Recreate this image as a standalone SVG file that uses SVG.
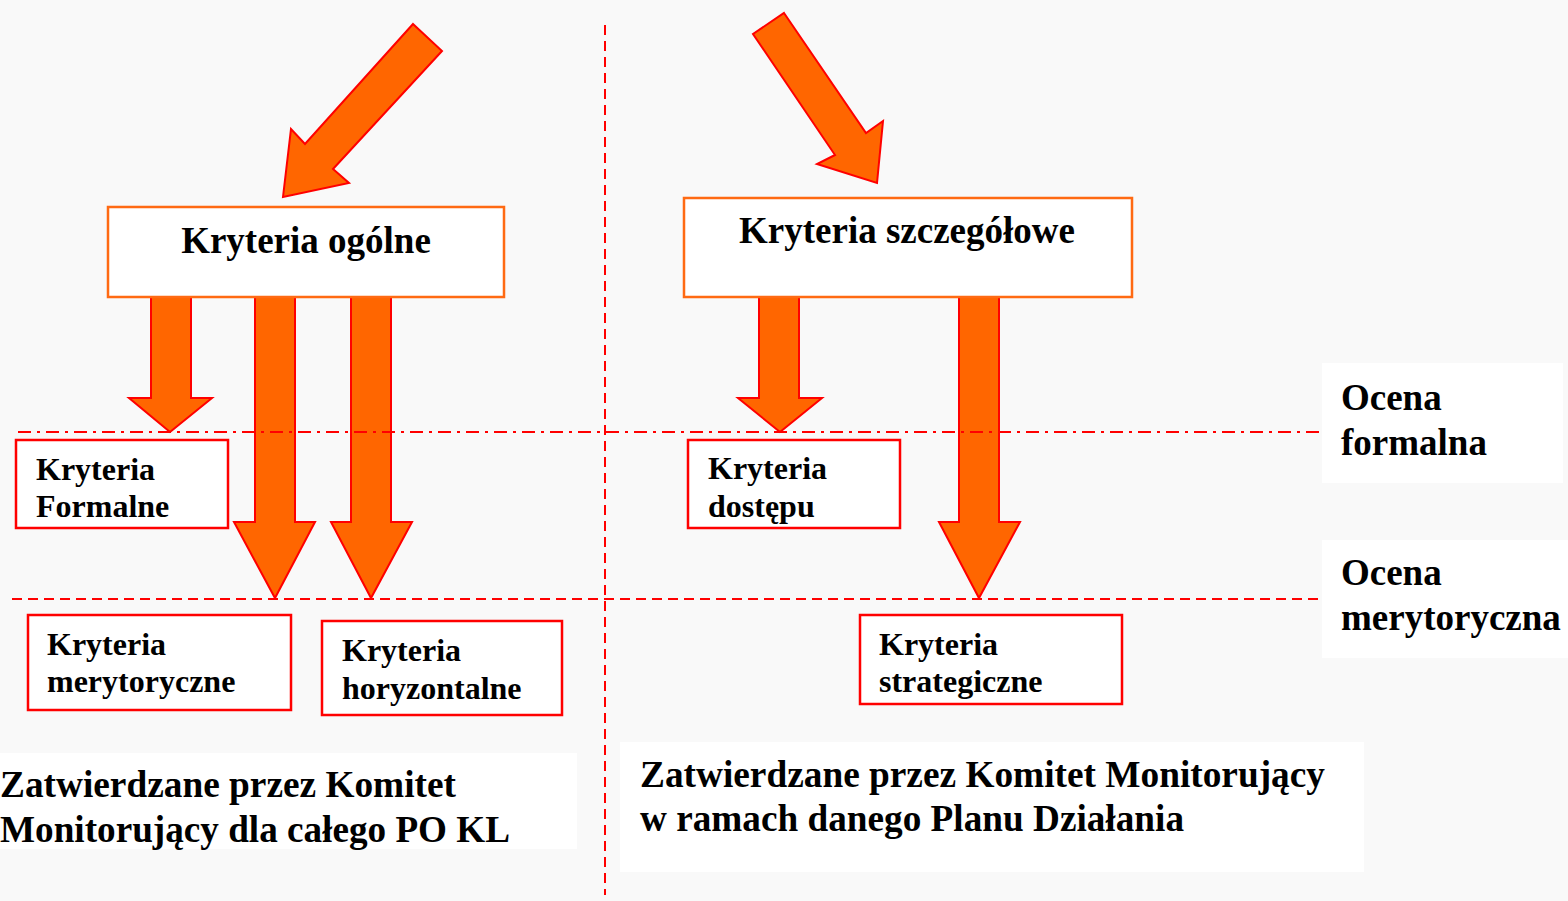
<svg xmlns="http://www.w3.org/2000/svg" width="1568" height="901" viewBox="0 0 1568 901">
<style>
.arrow{fill:#ff6600;stroke:#ff0000;stroke-width:2;stroke-linejoin:miter}
.big{fill:#ffffff;stroke:#ff6a13;stroke-width:2.5}
.small{fill:#ffffff;stroke:#ff0000;stroke-width:2.5}
text{font-family:"Liberation Serif","Times New Roman",serif;font-weight:bold;fill:#000000}
.t37{font-size:37px}
.t32{font-size:32px}
.dash{stroke:#ff0000;stroke-width:2;fill:none;stroke-dasharray:10 6}
.dashdot{stroke:#ff0000;stroke-width:2;fill:none;stroke-dasharray:13 6 3 6}
.bgw{fill:#ffffff}
</style>
<rect x="0" y="0" width="1568" height="901" fill="#f9f9f9"/>
<rect class="bgw" x="1322" y="363" width="241" height="120"/>
<rect class="bgw" x="1322" y="540" width="246" height="118"/>
<rect class="bgw" x="0" y="753" width="577" height="96"/>
<rect class="bgw" x="620" y="742" width="744" height="130"/>

<g id="connectors">
<polygon class="arrow" points="413,24 442,51 333,169 349,183 283,197 291,129 305,144"/>
<polygon class="arrow" points="784,13 866,133 883,121 877,183 817,164 835,155 753,34"/>
<polygon class="arrow" points="151,297 191,297 191,398 212,398 170,432 129,398 151,398"/>
<polygon class="arrow" points="255,297 295,297 295,522 315,522 275,598 234,522 255,522"/>
<polygon class="arrow" points="351,297 391,297 391,522 412,522 371,598 331,522 351,522"/>
<polygon class="arrow" points="759,297 799,297 799,398 822,398 780,432 738,398 759,398"/>
<polygon class="arrow" points="959,297 999,297 999,522 1020,522 979,598 939,522 959,522"/>
</g>

<g id="guides">
<line class="dashdot" x1="18" y1="432" x2="1320" y2="432"/>
<line class="dash" x1="12" y1="599" x2="1322" y2="599"/>
<line class="dash" x1="605" y1="25" x2="605" y2="895"/>
</g>

<g id="kryteria-ogolne">
<rect class="big" x="108" y="207" width="396" height="90"/>
<text class="t37" x="306" y="253" text-anchor="middle">Kryteria ogólne</text>
</g>
<g id="kryteria-szczegolowe">
<rect class="big" x="684" y="198" width="448" height="99"/>
<text class="t37" x="907" y="243" text-anchor="middle">Kryteria szczegółowe</text>
</g>
<g id="kryteria-formalne">
<rect class="small" x="16" y="440" width="212" height="88"/>
<text class="t32" x="36" y="480">Kryteria</text>
<text class="t32" x="36" y="517">Formalne</text>
</g>
<g id="kryteria-dostepu">
<rect class="small" x="688" y="440" width="212" height="88"/>
<text class="t32" x="708" y="479">Kryteria</text>
<text class="t32" x="708" y="517">dostępu</text>
</g>
<g id="kryteria-merytoryczne">
<rect class="small" x="28" y="615" width="263" height="95"/>
<text class="t32" x="47" y="655">Kryteria</text>
<text class="t32" x="47" y="692">merytoryczne</text>
</g>
<g id="kryteria-horyzontalne">
<rect class="small" x="322" y="621" width="240" height="94"/>
<text class="t32" x="342" y="661">Kryteria</text>
<text class="t32" x="342" y="699">horyzontalne</text>
</g>
<g id="kryteria-strategiczne">
<rect class="small" x="860" y="615" width="262" height="89"/>
<text class="t32" x="879" y="655">Kryteria</text>
<text class="t32" x="879" y="692">strategiczne</text>
</g>
<g id="ocena-formalna">
<text class="t37" x="1341" y="410">Ocena</text>
<text class="t37" x="1341" y="455">formalna</text>
</g>
<g id="ocena-merytoryczna">
<text class="t37" x="1341" y="585">Ocena</text>
<text class="t37" x="1341" y="630">merytoryczna</text>
</g>
<g id="note-left">
<text class="t37" x="0" y="797" textLength="456" lengthAdjust="spacingAndGlyphs">Zatwierdzane przez Komitet</text>
<text class="t37" x="0" y="842" textLength="510" lengthAdjust="spacingAndGlyphs">Monitorujący dla całego PO KL</text>
</g>
<g id="note-right">
<text class="t37" x="640" y="787" textLength="685" lengthAdjust="spacingAndGlyphs">Zatwierdzane przez Komitet Monitorujący</text>
<text class="t37" x="640" y="831" textLength="544" lengthAdjust="spacingAndGlyphs">w ramach danego Planu Działania</text>
</g>
</svg>
